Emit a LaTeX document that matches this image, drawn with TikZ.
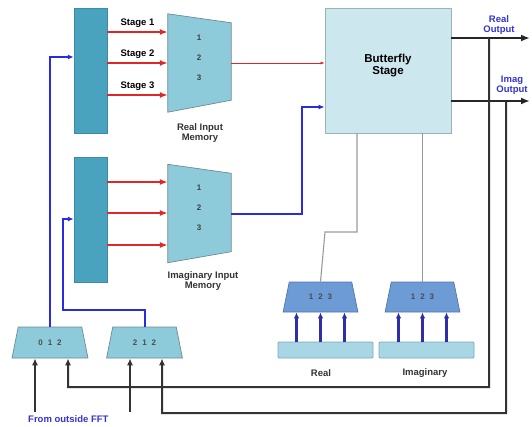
\documentclass[tikz,border=0pt]{standalone}
\usepackage{fontspec}
\setmainfont{Liberation Sans}
\usepackage{xcolor}
\usepackage{tikz}
\usetikzlibrary{arrows.meta,shapes.geometric,calc,positioning}
\definecolor{bufteal}{HTML}{4AA3BE}
\definecolor{bufedge}{HTML}{3C8CA6}
\definecolor{memteal}{HTML}{8ECBDA}
\definecolor{memedge}{HTML}{6E8894}
\definecolor{bflyfill}{HTML}{CDE7EF}
\definecolor{bflyedge}{HTML}{9AB2BA}
\definecolor{muxblue}{HTML}{6C9BD6}
\definecolor{muxedge}{HTML}{5676A6}
\definecolor{storefill}{HTML}{A9D6E5}
\definecolor{storeedge}{HTML}{7FA6B5}
\definecolor{stagered}{HTML}{E02626}
\definecolor{wireblue}{HTML}{2B2BE0}
\definecolor{lblblue}{HTML}{3333D0}
\definecolor{navyarr}{HTML}{2E2EA8}
\tikzstyle{buf}=[rectangle, draw=bufedge, fill=bufteal, minimum width=33pt, minimum height=125pt, inner sep=0pt]
\tikzstyle{memframe}=[rectangle, minimum width=63pt, minimum height=98pt, inner sep=0pt]
\tikzstyle{memshape}=[draw=memedge, fill=memteal, line width=0.7pt]
\tikzstyle{digit}=[inner sep=0pt, text=black!75, font=\fontsize{8}{9}\selectfont\bfseries]
\tikzstyle{caption}=[align=center, inner sep=0pt, text=black!80, font=\fontsize{9.5}{9.5}\selectfont\bfseries]
\tikzstyle{outlbl}=[align=center, inner sep=0pt, text=lblblue, font=\fontsize{9.5}{10}\selectfont\bfseries]
\tikzstyle{bfly}=[rectangle, draw=bflyedge, fill=bflyfill, line width=0.7pt, minimum width=126pt, minimum height=125pt, align=center, font=\fontsize{11.5}{11.5}\selectfont\bfseries]
\tikzstyle{mux}=[trapezium, trapezium angle=68, trapezium stretches=true, minimum width=76pt, minimum height=31pt, inner sep=0pt, draw=memedge, fill=memteal, line width=0.7pt, font=\fontsize{8}{8}\selectfont\bfseries, text=black!70]
\tikzstyle{rdmux}=[mux, draw=muxedge, fill=muxblue, minimum width=75pt, minimum height=30pt]
\tikzstyle{store}=[rectangle, draw=storeedge, fill=storefill, line width=0.8pt, minimum width=95pt, minimum height=16pt, rounded corners=1pt]
\tikzstyle{stagearr}=[-{Latex[length=8pt,width=6pt]}, draw=stagered, line width=2.2pt]
\tikzstyle{thinred}=[-{Latex[length=4pt,width=3pt]}, draw=stagered, line width=0.6pt]
\tikzstyle{selwire}=[-{Latex[length=6pt,width=5pt]}, draw=wireblue, line width=2pt]
\tikzstyle{outwire}=[-{Latex[length=9pt,width=7pt]}, draw=black!85, line width=2.4pt]
\tikzstyle{fbwire}=[-{Latex[length=7pt,width=6pt]}, draw=black!80, line width=2pt]
\tikzstyle{ctlwire}=[draw=black!40, line width=1.1pt]
\tikzstyle{uparr}=[-{Latex[length=6pt,width=5.5pt]}, draw=navyarr, line width=2.2pt]
\newcommand{\muxgap}{\hspace{5pt}}

\begin{document}
\begin{tikzpicture}[x=1pt,y=-1pt,font=\fontsize{9.5}{10}\selectfont\bfseries]
\useasboundingbox (0,0) rectangle (532,426);

% stage buffers
\node[buf] (rbuf) at (90.5,70.5) {};
\node[buf] (ibuf) at (90.5,219.5) {};

% input memories
\node[memframe] (rmem) at (199.5,63) {};
\draw[memshape] (rmem.north west) -- ([yshift=-9pt]rmem.north east) -- ([yshift=12pt]rmem.south east) -- (rmem.south west) -- cycle;
\node[memframe] (imem) at (199.5,213.5) {};
\draw[memshape] (imem.north west) -- ([yshift=-9pt]imem.north east) -- ([yshift=11pt]imem.south east) -- (imem.south west) -- cycle;
\foreach \k/\y in {1/38,2/58,3/78}
  \node[digit] (rd\k) at (199,\y) {\k};
\foreach \k/\y in {1/188,2/208,3/228}
  \node[digit] (id\k) at (199,\y) {\k};
\node[caption] (rmemlbl) at (200,133) {Real Input\\Memory};
\node[caption] (imemlbl) at (203,281) {Imaginary Input\\Memory};

\foreach \y/\s in {32/Stage 1,63/Stage 2,95/Stage 3}
  \draw[stagearr] (rbuf.east |- 0,\y) -- (rmem.west |- 0,\y) node[midway,above] {\s};
\foreach \y in {182,213,245}
  \draw[stagearr] (ibuf.east |- 0,\y) -- (imem.west |- 0,\y);

% butterfly
\node[bfly] (bfly) at (388,70.5) {Butterfly\\Stage\\[1pt]};
\draw[thinred] (rmem.east) -- (bfly.west |- rmem.east);
\draw[selwire] (imem.east) -- (302,213.5) |- (bfly.west |- 0,107);

% outputs
\coordinate (realout) at (530,38);
\coordinate (imagout) at (530,101);
\draw[outwire] (bfly.east |- realout) -- (realout);
\draw[outwire] (bfly.east |- imagout) -- (imagout);
\node[outlbl] (rolbl) at (499,25) {Real\\Output};
\node[outlbl] (iolbl) at (512,85) {Imag\\Output};

% stage selectors
\node[mux] (sel1) at (50,342.5) {0\muxgap1\muxgap2};
\node[mux] (sel2) at (144.5,342.5) {2\muxgap1\muxgap2};
\draw[selwire] (sel1.north) |- (rbuf.west |- 0,57);
\draw[selwire] (sel2.north) |- (63,310) |- (ibuf.west |- 0,219);

% feedback
\coordinate (fbreal) at (489,38);
\coordinate (fbimag) at (506,101);
\draw[fbwire] (fbreal) -- (489,387) -- (68,387) -- ([xshift=18pt]sel1.south);
\draw[fbwire] (fbimag) -- (506,413) -- (162,413) -- ([xshift=17.5pt]sel2.south);
\coordinate (ext1) at (35,412);
\coordinate (ext2) at (130,412);
\draw[fbwire] (ext1) -- (ext1 |- sel1.south);
\draw[fbwire] (ext2) -- (ext2 |- sel2.south);
\node[outlbl, anchor=west] (extlbl) at (28,419.5) {From outside FFT};

% twiddle memories
\node[rdmux] (rsel) at (320.5,297) {1\muxgap2\muxgap3};
\node[rdmux] (isel) at (422.5,297) {1\muxgap2\muxgap3};
\draw[ctlwire] (bfly.south -| 357,0) |- (325,232) -- (rsel.north);
\draw[ctlwire] (bfly.south -| isel.north) -- (isel.north);
\node[store] (rstore) at (325.5,350) {};
\node[store] (istore) at (426.5,350) {};
\foreach \dx in {-24,0,24} {
  \draw[uparr] ($(rsel.south)+(\dx,30)$) -- ($(rsel.south)+(\dx,0)$);
  \draw[uparr] ($(isel.south)+(\dx,30)$) -- ($(isel.south)+(\dx,0)$);
}
\node[caption] (rstorelbl) at (321,373) {Real};
\node[caption] (istorelbl) at (425,373) {Imaginary};

\end{tikzpicture}
\end{document}
